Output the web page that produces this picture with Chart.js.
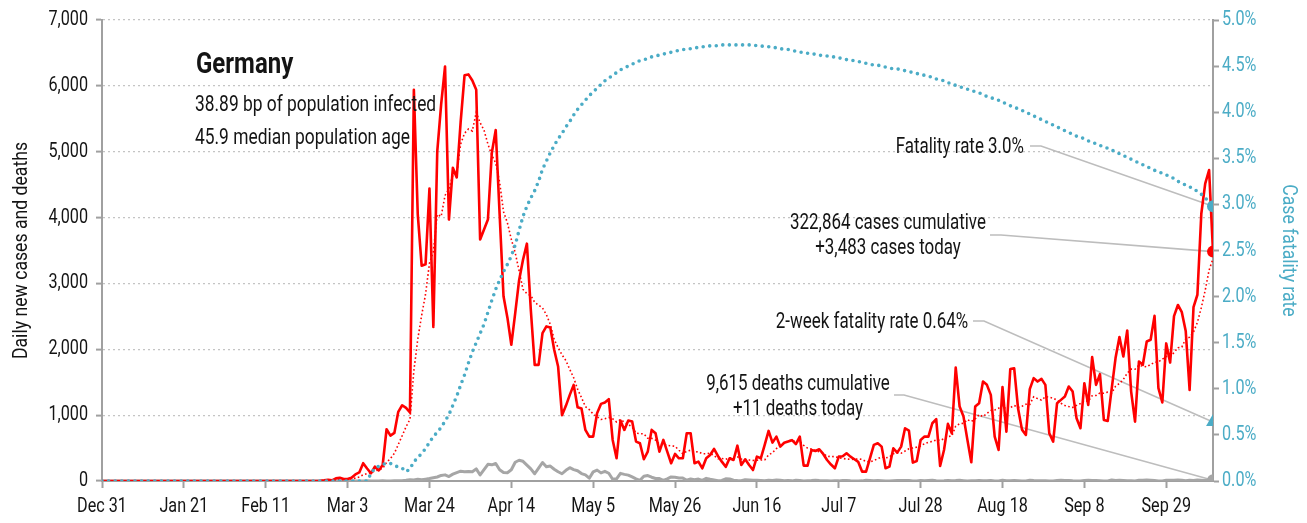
<!DOCTYPE html>
<html>
<head>
<meta charset="utf-8">
<script src="https://cdn.jsdelivr.net/npm/chart.js@4.4.0/dist/chart.umd.min.js"></script>
<style>
html,body{margin:0;padding:0;background:#fff;}
#wrap{width:1307px;height:523px;position:relative;}
</style>
</head>
<body>
<div id="wrap"><canvas id="c" width="1307" height="523"></canvas></div>
<script>
// ---------- data (day 0 = Dec 31, one value per day, last day = Oct 11) ----------
const tickDays = [0,21,42,63,84,105,126,147,168,189,210,231,252,273];
const tickLabels = ["Dec 31","Jan 21","Feb 11","Mar 3","Mar 24","Apr 14","May 5","May 26","Jun 16","Jul 7","Jul 28","Aug 18","Sep 8","Sep 29"];

const dailyCases = [
0,0,0,0,0,0,0,0,0,0,
0,0,0,0,0,0,0,0,0,0,
0,0,0,0,0,0,0,0,0,0,
0,0,0,0,0,0,0,0,0,0,
0,0,0,0,0,0,0,0,0,0,
0,0,0,0,0,0,2,10,20,10,
40,50,30,30,50,100,130,270,190,117,
217,160,243,786,690,730,1050,1150,1110,1040,
5940,4050,3270,3290,4440,2340,5000,5720,6294,3970,
4756,4610,5450,6160,6174,6082,5940,3666,3820,3970,
4984,5329,4050,2804,2480,2068,2550,3050,3360,3604,
2600,1764,1764,2246,2347,2330,1992,1739,1000,1141,
1308,1460,1120,1100,776,674,674,1030,1171,1191,
1242,624,345,917,776,917,902,598,573,330,
446,776,725,446,624,446,269,411,345,345,
725,725,269,294,193,345,395,487,380,294,
215,345,319,537,243,330,243,167,370,345,
548,760,583,674,522,580,600,620,560,674,
233,233,471,456,482,411,319,250,193,370,
375,421,370,330,290,142,142,345,548,573,
522,193,218,497,431,522,801,765,279,304,
624,674,674,877,938,228,471,867,725,1723,
1130,978,624,284,1130,1181,1510,1460,1308,674,
471,1425,750,1700,1710,1100,780,700,1395,1562,
1510,1551,1460,725,598,1181,1232,1282,1434,1358,
953,801,1485,1155,1881,1460,1622,928,912,1394,
1866,2185,1891,2286,1358,902,1815,1764,2119,2145,
2507,1411,1192,2089,1798,2503,2673,2563,2279,1382,
2639,2828,4058,4516,4721,3483
];

const casesAvg7 = [
0,0,0,0,0,0,0,0,0,0,
0,0,0,0,0,0,0,0,0,0,
0,0,0,0,0,0,0,0,0,0,
0,0,0,0,0,0,0,0,0,0,
0,0,0,0,0,0,0,0,0,0,
0,0,0,0,0,0,0,2,5,6,
12,19,23,27,33,44,61,94,114,127,
153,169,190,283,343,420,554,687,823,937,
1673,2153,2516,2836,3306,3481,4047,4016,4336,4436,
4646,4670,5114,5280,5345,5315,5596,5440,5327,5116,
4948,4827,4537,4089,3920,3669,3466,3190,2909,2845,
2816,2714,2670,2627,2526,2379,2149,2026,1917,1828,
1694,1567,1394,1267,1129,1083,1016,976,935,945,
965,944,897,931,895,859,818,726,718,716,
649,649,621,556,560,542,533,528,467,412,
452,467,441,445,414,414,421,387,338,341,
330,352,348,368,333,326,319,312,316,319,
321,395,431,492,543,573,610,620,591,604,
541,500,484,464,444,423,372,375,369,354,
343,334,328,330,336,328,296,291,310,339,
366,352,363,414,426,422,455,490,502,514,
532,567,589,600,624,617,641,676,683,833,
869,875,931,904,942,1007,977,1024,1071,1078,
1105,1147,1085,1113,1148,1119,1134,1166,1162,1278,
1251,1228,1280,1272,1257,1227,1180,1147,1130,1116,
1148,1177,1221,1210,1295,1299,1337,1333,1349,1336,
1438,1481,1543,1637,1699,1697,1758,1743,1734,1770,
1801,1809,1850,1890,1894,1949,2025,2033,2157,2184,
2262,2410,2632,2895,3203,3375
];

const dailyDeaths = [
0,0,0,0,0,0,0,0,0,0,
0,0,0,0,0,0,0,0,0,0,
0,0,0,0,0,0,0,0,0,0,
0,0,0,0,0,0,0,0,0,0,
0,0,0,0,0,0,0,0,0,0,
0,0,0,0,0,0,0,0,0,0,
0,0,0,0,0,0,0,0,2,0,
1,0,3,1,1,2,3,4,11,20,
17,27,20,28,37,49,61,84,93,68,
104,128,149,140,145,141,184,92,173,254,
246,266,171,129,126,170,285,315,299,242,
184,110,194,281,215,227,179,140,110,163,
202,173,156,113,94,43,139,165,123,147,
118,26,33,116,101,89,62,33,10,72,
83,57,38,37,10,32,62,57,47,44,
11,31,20,29,10,40,26,15,3,8,
33,31,12,6,3,20,17,12,10,6,
3,11,8,14,10,4,6,2,12,9,
1,3,6,12,6,5,3,0,4,2,
8,7,3,1,0,2,11,8,5,6,
3,1,0,4,7,9,9,7,1,0,
6,4,7,10,3,1,2,6,4,6,
10,5,1,2,4,7,5,4,9,1,
0,10,3,5,7,5,1,0,11,6,
4,3,5,1,0,8,11,6,7,2,
0,1,9,10,6,8,5,1,0,15,
6,11,7,3,4,1,11,10,14,13,
7,1,1,11,13,12,17,11,3,12,
9,16,13,8,14,11
];

const fatalityRate = [
0,0,0,0,0,0,0,0,0,0,
0,0,0,0,0,0,0,0,0,0,
0,0,0,0,0,0,0,0,0,0,
0,0,0,0,0,0,0,0,0,0,
0,0,0,0,0,0,0,0,0,0,
0,0,0,0,0,0,0,0,0,0,
0,0,0,0,0,0,0,0,0,0.08,
0.14,0.16,0.18,0.19,0.19,0.17,0.15,0.14,0.10,0.13,
0.21,0.25,0.30,0.35,0.42,0.48,0.53,0.58,0.65,0.72,
0.82,0.92,1.04,1.15,1.28,1.40,1.50,1.60,1.70,1.83,
1.96,2.08,2.18,2.27,2.35,2.44,2.56,2.72,2.87,2.98,
3.07,3.15,3.25,3.38,3.47,3.56,3.64,3.71,3.77,3.84,
3.90,3.97,4.03,4.08,4.13,4.18,4.22,4.26,4.30,4.34,
4.37,4.40,4.43,4.46,4.48,4.50,4.52,4.54,4.56,4.57,
4.58,4.60,4.61,4.62,4.63,4.64,4.65,4.66,4.67,4.68,
4.68,4.69,4.70,4.70,4.71,4.71,4.72,4.72,4.72,4.73,
4.73,4.73,4.73,4.73,4.73,4.73,4.73,4.73,4.72,4.72,
4.71,4.71,4.70,4.70,4.69,4.68,4.68,4.67,4.66,4.65,
4.65,4.64,4.63,4.63,4.62,4.61,4.61,4.60,4.60,4.59,
4.58,4.57,4.56,4.56,4.55,4.54,4.53,4.52,4.51,4.51,
4.50,4.49,4.48,4.47,4.47,4.46,4.45,4.44,4.43,4.42,
4.41,4.40,4.39,4.38,4.36,4.35,4.34,4.32,4.31,4.29,
4.28,4.26,4.25,4.24,4.22,4.21,4.19,4.17,4.16,4.14,
4.13,4.11,4.09,4.07,4.05,4.04,4.02,4.00,3.98,3.96,
3.94,3.92,3.90,3.88,3.86,3.84,3.82,3.80,3.78,3.76,
3.74,3.73,3.71,3.69,3.67,3.66,3.64,3.62,3.61,3.59,
3.57,3.55,3.53,3.51,3.49,3.47,3.45,3.43,3.41,3.39,
3.37,3.35,3.34,3.32,3.30,3.28,3.25,3.23,3.21,3.19,
3.17,3.14,3.11,3.07,3.03,2.98
];

const lastDay = 285;
const casesToday = 3483;
const deathsToday = 11;
const fatalityNow = 2.98;
const twoWeekFatality = 0.64;

const countryName = "Germany";
const infoLines = ["38.89 bp of population infected", "45.9 median population age"];
const labelFatality = ["Fatality rate 3.0%"];
const labelCases = ["322,864 cases cumulative", "+3,483 cases today"];
const labelTwoWeek = ["2-week fatality rate 0.64%"];
const labelDeaths = ["9,615 deaths cumulative", "+11 deaths today"];
const leftTitle = "Daily new cases and deaths";
const rightTitle = "Case fatality rate";

// ---------- styling ----------
const FONT = "Roboto, 'Liberation Sans', 'DejaVu Sans Condensed', sans-serif";
const TEAL = '#4BACC6', RED = '#FF0000', GRAY = '#A6A6A6', AXIS = '#A0A0A0', LEADER = '#BDBDBD', INK = '#141414';

const toXY = arr => arr.map((v, i) => ({x: i, y: v}));

// condensed text helper (real canvas text, horizontally narrowed)
function cText(ctx, text, x, y, o) {
  ctx.save();
  ctx.translate(x, y);
  if (o.rot) ctx.rotate(o.rot);
  ctx.scale(o.sx || 0.8, 1);
  ctx.font = `${o.weight || 'normal'} ${o.size}px ${FONT}`;
  ctx.textAlign = o.align || 'left';
  ctx.textBaseline = o.base || 'middle';
  ctx.fillStyle = o.color || INK;
  ctx.fillText(text, 0, 0);
  ctx.restore();
}

const annotations = [
  {lines: labelFatality, tx: 1024, ty: [147], align: 'right', path: [[1030,146],[1041,146]], axis: 'y2', value: fatalityNow},
  {lines: labelCases, tx: 888, ty: [223, 248], align: 'center', path: [[990,235],[1001,235]], axis: 'y', value: casesToday},
  {lines: labelTwoWeek, tx: 872, ty: [322], align: 'center', path: [[973,321],[984,321]], axis: 'y2', value: twoWeekFatality},
  {lines: labelDeaths, tx: 798, ty: [384, 409], align: 'center', path: [[894,395],[904,395]], axis: 'y', value: deathsToday}
];

const textPlugin = {
  id: 'texts',
  beforeDatasetsDraw(chart) {
    const ctx = chart.ctx, xs = chart.scales.x;
    ctx.save();
    ctx.strokeStyle = LEADER;
    ctx.lineWidth = 1.6;
    annotations.forEach(a => {
      const px = xs.getPixelForValue(lastDay);
      const py = chart.scales[a.axis].getPixelForValue(a.value);
      ctx.beginPath();
      ctx.moveTo(a.path[0][0], a.path[0][1]);
      ctx.lineTo(a.path[1][0], a.path[1][1]);
      ctx.lineTo(px, py);
      ctx.stroke();
    });
    ctx.restore();
  },
  afterDraw(chart) {
    const ctx = chart.ctx;
    const {x, y, y2} = chart.scales;
    // axis tick labels
    x.ticks.forEach(t => {
      const i = tickDays.indexOf(t.value);
      cText(ctx, tickLabels[i], x.getPixelForValue(t.value), 507, {size: 20, sx: 0.81, align: 'center'});
    });
    y.ticks.forEach(t => {
      cText(ctx, t.value.toLocaleString('en-US'), 88, y.getPixelForValue(t.value), {size: 20, sx: 0.81, align: 'right'});
    });
    y2.ticks.forEach(t => {
      cText(ctx, t.value.toFixed(1) + '%', 1222, y2.getPixelForValue(t.value), {size: 20, sx: 0.81, align: 'left', color: TEAL});
    });
    // axis titles
    const midY = (y.top + y.bottom) / 2;
    cText(ctx, leftTitle, 22, midY, {size: 21, sx: 0.84, align: 'center', rot: -Math.PI / 2});
    cText(ctx, rightTitle, 1288, midY, {size: 21, sx: 0.84, align: 'center', rot: Math.PI / 2, color: TEAL});
    // annotations
    annotations.forEach(a => {
      a.lines.forEach((t, i) => cText(ctx, t, a.tx, a.ty[i], {size: 22, sx: 0.77, align: a.align}));
    });
    // header block
    cText(ctx, countryName, 196, 73, {size: 30, weight: 'bold', sx: 0.8, base: 'alphabetic'});
    cText(ctx, infoLines[0], 195, 111, {size: 22, sx: 0.79, base: 'alphabetic'});
    cText(ctx, infoLines[1], 195, 144, {size: 22, sx: 0.79, base: 'alphabetic'});
  }
};

new Chart(document.getElementById('c').getContext('2d'), {
  type: 'line',
  data: {
    datasets: [
      {data: [{x: lastDay, y: fatalityNow}], yAxisID: 'y2', showLine: false, pointRadius: 6, pointStyle: 'circle', backgroundColor: TEAL, borderColor: TEAL, borderWidth: 0},
      {data: [{x: lastDay, y: casesToday}], yAxisID: 'y', showLine: false, pointRadius: 6, pointStyle: 'circle', backgroundColor: RED, borderColor: RED, borderWidth: 0},
      {data: [{x: lastDay, y: twoWeekFatality}], yAxisID: 'y2', showLine: false, pointRadius: 8, pointStyle: 'triangle', backgroundColor: TEAL, borderColor: TEAL, borderWidth: 0},
      {data: [{x: lastDay, y: deathsToday}], yAxisID: 'y', showLine: false, pointRadius: 6, pointStyle: 'circle', backgroundColor: GRAY, borderColor: GRAY, borderWidth: 0},
      {label: 'Case fatality rate', data: toXY(fatalityRate), yAxisID: 'y2', borderColor: TEAL, borderWidth: 3.6, borderDash: [0, 6.6], borderCapStyle: 'round', pointRadius: 0, tension: 0},
      {label: 'Daily new cases', data: toXY(dailyCases), yAxisID: 'y', borderColor: RED, borderWidth: 2.6, borderJoinStyle: 'round', pointRadius: 0, tension: 0},
      {label: '7-day average', data: toXY(casesAvg7), yAxisID: 'y', borderColor: RED, borderWidth: 1.6, borderDash: [1.6, 2.4], pointRadius: 0, tension: 0},
      {label: 'Daily deaths', data: toXY(dailyDeaths), yAxisID: 'y', borderColor: GRAY, borderWidth: 3, borderJoinStyle: 'round', pointRadius: 0, tension: 0}
    ]
  },
  options: {
    responsive: false,
    animation: false,
    events: [],
    layout: {padding: {top: 20, left: 0, right: 0, bottom: 0}},
    plugins: {legend: {display: false}, tooltip: {enabled: false}},
    scales: {
      x: {
        type: 'linear', min: 0, max: lastDay,
        afterBuildTicks: s => { s.ticks = tickDays.map(v => ({value: v})); },
        ticks: {display: false, autoSkip: false},
        grid: {drawOnChartArea: false, drawTicks: true, tickLength: 7, tickColor: AXIS, tickWidth: 2},
        border: {color: AXIS, width: 2},
        afterFit: s => { s.height = 42; }
      },
      y: {
        position: 'left', min: 0, max: 7000,
        ticks: {display: false, stepSize: 1000},
        grid: {color: '#C4C4C4', lineWidth: 1.2, tickLength: 6, tickColor: AXIS, tickWidth: 2},
        border: {color: AXIS, width: 2, dash: [2, 3]},
        afterFit: s => { s.width = 102; }
      },
      y2: {
        position: 'right', min: 0, max: 5,
        ticks: {display: false, stepSize: 0.5},
        grid: {drawOnChartArea: false, tickLength: 6, tickColor: AXIS, tickWidth: 2},
        border: {color: AXIS, width: 2},
        afterFit: s => { s.width = 94; }
      }
    }
  },
  plugins: [textPlugin]
});
</script>
</body>
</html>
